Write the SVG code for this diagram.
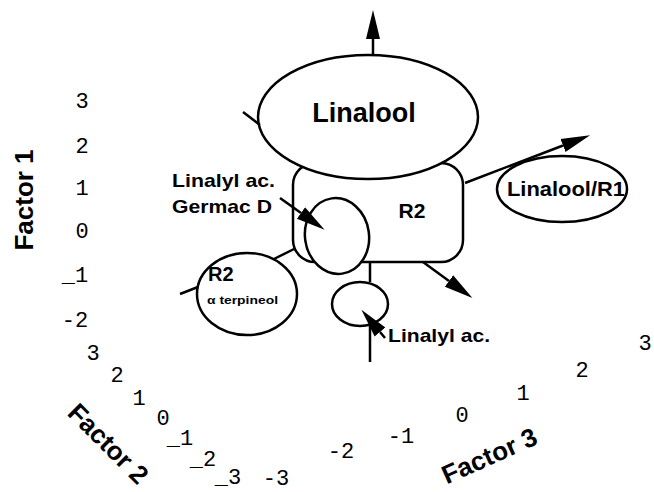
<svg xmlns="http://www.w3.org/2000/svg" width="654" height="492" viewBox="0 0 654 492">
<style>
.s{fill:none;stroke:#000;stroke-width:2.5}
.w{fill:#fff;stroke:#000;stroke-width:2.5}
.lb{font-family:"Liberation Sans",Arial,sans-serif;font-weight:bold;fill:#000}
.tk{font-family:"Liberation Mono","Courier New",monospace;font-size:22px;fill:#000}
.ax{font-family:"Liberation Sans",Arial,sans-serif;font-weight:bold;font-size:26px;fill:#000}
</style>
<defs>
<marker id="ah" markerUnits="userSpaceOnUse" markerWidth="30" markerHeight="18" refX="0" refY="9" orient="auto">
<path d="M0,2 L29,9 L0,16 Z" fill="#000"/>
</marker>
</defs>
<rect width="654" height="492" fill="#fff"/>
<g id="axes">
<text class="ax" transform="translate(33,200) rotate(-90)" text-anchor="middle">Factor 1</text>
<text class="ax" transform="translate(102,450) rotate(45)" text-anchor="middle">Factor 2</text>
<text class="ax" transform="translate(493,464) rotate(-24)" text-anchor="middle">Factor 3</text>
<g class="tk" text-anchor="middle">
<text x="82" y="108">3</text>
<text x="82" y="153">2</text>
<text x="82" y="195">1</text>
<text x="82" y="238">0</text>
<text x="75" y="282">_1</text>
<text x="75" y="327">-2</text>
<text x="93" y="360">3</text>
<text x="117" y="382">2</text>
<text x="139" y="405">1</text>
<text x="163" y="425">0</text>
<text x="180" y="445">_1</text>
<text x="203" y="466">_2</text>
<text x="228" y="484">_3</text>
<text x="276" y="485">-3</text>
<text x="645" y="350">3</text>
<text x="582" y="377">2</text>
<text x="523" y="400">1</text>
<text x="462" y="422">0</text>
<text x="401" y="443">-1</text>
<text x="341" y="458">-2</text>
</g>
</g>
<g id="R2">
<rect class="w" x="293" y="163" width="170" height="99" rx="22"/>
<text class="lb" x="412" y="218" font-size="21" text-anchor="middle">R2</text>
</g>
<g id="Linalool">
<ellipse class="w" cx="368" cy="117" rx="110" ry="62"/>
<text class="lb" x="364" y="122" font-size="27" text-anchor="middle">Linalool</text>
</g>
<g id="inner">
<ellipse class="w" cx="337" cy="236" rx="32" ry="38" transform="rotate(-8 337 236)"/>
</g>
<g id="terpineol">
<ellipse class="w" cx="247" cy="294" rx="50" ry="41"/>
<text class="lb" x="208" y="281" font-size="20">R2</text>
<text class="lb" x="207" y="304" font-size="11" textLength="71" lengthAdjust="spacingAndGlyphs">α terpineol</text>
</g>
<g id="linalyl-small">
<ellipse class="w" cx="360" cy="304" rx="28" ry="22"/>
</g>
<g id="LinaloolR1">
<ellipse class="w" cx="562" cy="189" rx="65" ry="33"/>
<text class="lb" x="507" y="196" font-size="21" textLength="118" lengthAdjust="spacingAndGlyphs">Linalool/R1</text>
</g>
<g id="labels">
<text class="lb" x="172" y="187" font-size="19" textLength="103" lengthAdjust="spacingAndGlyphs">Linalyl ac.</text>
<text class="lb" x="172" y="213" font-size="19" textLength="100" lengthAdjust="spacingAndGlyphs">Germac D</text>
<text class="lb" x="388" y="342" font-size="19" textLength="102" lengthAdjust="spacingAndGlyphs">Linalyl ac.</text>
</g>
<g id="connectors">
<line class="s" x1="373" y1="55" x2="373" y2="39" marker-end="url(#ah)"/>
<line class="s" x1="465" y1="183" x2="563" y2="145.5" marker-end="url(#ah)"/>
<line class="s" x1="423" y1="262" x2="449" y2="281" marker-end="url(#ah)"/>
<line class="s" x1="280" y1="198" x2="301" y2="213" marker-end="url(#ah)"/>
<line class="s" x1="385" y1="338" x2="380" y2="332" marker-end="url(#ah)"/>
<line class="s" x1="370" y1="362" x2="370" y2="326"/>
<line class="s" x1="243" y1="112" x2="260" y2="125"/>
<line class="s" x1="274" y1="259" x2="294" y2="249"/>
<line class="s" x1="180" y1="294" x2="198" y2="287"/>
<line class="s" x1="370" y1="262" x2="370" y2="282"/>
</g>
</svg>
